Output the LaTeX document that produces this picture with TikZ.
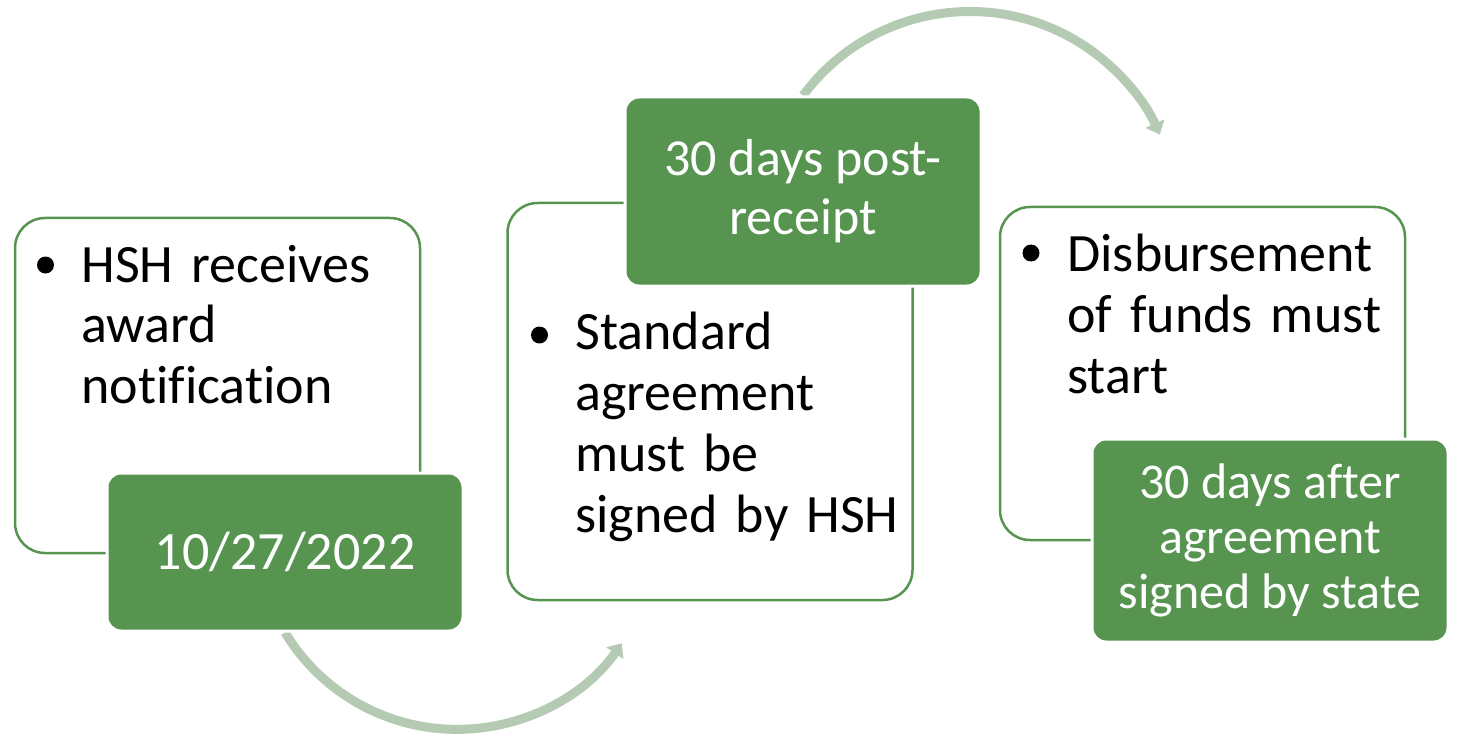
\documentclass[tikz,border=0pt]{standalone}
\usepackage{fontspec}
\setmainfont{Carlito}[Ligatures=NoCommon]
\usetikzlibrary{arrows.meta,backgrounds}
\definecolor{hshgreen}{RGB}{86,148,80}
\definecolor{hshsage}{RGB}{181,202,179}

\begin{document}
\begin{tikzpicture}[
      x=0.5pt, y=-0.5pt,
      stepbox/.style={draw=hshgreen, line width=1.25pt, fill=white,
        rounded corners=15pt, minimum width=202.5pt, inner sep=0pt},
      datebox/.style={fill=hshgreen, draw=white, line width=1.5pt,
        rounded corners=7pt, minimum width=178pt, inner sep=0pt,
        text=white, align=center},
      listtext/.style={anchor=base west, inner sep=0pt, text width=175pt,
        align=left, font=\fontsize{27pt}{30.5pt}\selectfont},
      dot/.style={circle, fill=black, minimum size=8.5pt, inner sep=0pt},
      flow/.style={draw=hshsage, line width=4.5pt,
        -{Triangle[length=6pt, width=10pt]}}
    ]
    \useasboundingbox (0,0) rectangle (1458,738);

    % the three white steps
    \node[stepbox, minimum height=167.5pt] (box1) at (217.5,385.5) {};
    \node[stepbox, minimum height=198.5pt] (box2) at (710,401.5) {};
    \node[stepbox, minimum height=166.5pt] (box3) at (1202.5,373.5) {};

    % bullet text of each step
    \node[dot] (dot1) at (45.5,265) {};
    \node[listtext] (list1) at (81,282) {HSH receives\\award\\notification};
    \node[dot] (dot2) at (539.5,335) {};
    \node[listtext] (list2) at (575,350) {Standard\\agreement\\must be\\signed by HSH};
    \node[dot] (dot3) at (1031,253) {};
    \node[listtext] (list3) at (1067,271) {Disbursement\\of funds must\\start};

    % green date boxes on top of the steps
    \node[datebox, minimum height=79pt, font=\fontsize{27pt}{30.5pt}\selectfont]
      (date1) at (285,552) {10/27/2022};
    \node[datebox, minimum height=94.5pt, font=\fontsize{26pt}{29.5pt}\selectfont]
      (date2) at (803,191.5) {30 days post-\\receipt};
    \node[datebox, minimum height=101.5pt, font=\fontsize{25pt}{27.5pt}\selectfont]
      (date3) at (1270,540.5) {30 days after\\agreement\\signed by state};

    % curved arrows behind the boxes
    \begin{scope}[on background layer]
      \draw[flow] (date1.south) arc[start angle=148.8, end angle=34.9, radius=201];
      \draw[flow] (date2.north) arc[start angle=216.6, end angle=335.9, radius=208];
    \end{scope}
\end{tikzpicture}
\end{document}
